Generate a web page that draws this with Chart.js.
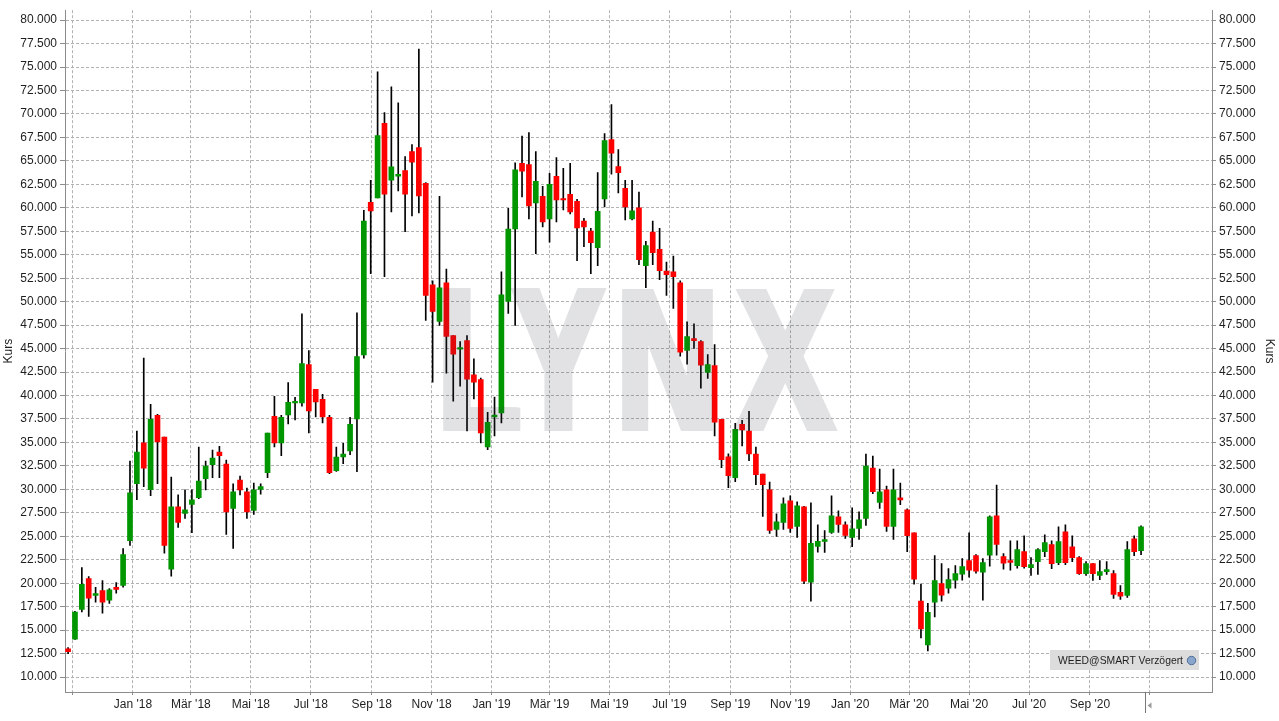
<!DOCTYPE html>
<html>
<head>
<meta charset="utf-8">
<script src="https://cdn.jsdelivr.net/npm/chart.js@4.4.1/dist/chart.umd.min.js"></script>
<style>
html,body{margin:0;padding:0;background:#fff;}
#wrap{width:1279px;height:721px;position:relative;}
</style>
</head>
<body>
<div id="wrap"><canvas id="c" width="1279" height="721"></canvas></div>
<script>
// ---- data (weekly candles, WEED@SMART) ----
const firstWeek = '2017-10-27';
const open  = [13.0,14.03,17.21,20.5,18.7,19.23,18.2,19.55,19.76,24.53,30.61,34.96,29.97,37.89,35.56,21.49,28.14,27.43,28.39,29.13,31.14,32.63,33.97,32.7,27.96,31.0,29.73,27.75,30.0,31.78,
37.79,34.96,37.93,39.2,39.2,43.3,40.65,39.59,37.68,31.99,33.47,34.11,37.5,44.33,60.59,61.05,69.01,62.96,63.38,63.98,66.0,66.42,62.6,51.79,47.9,52.0,46.38,44.93,45.85,42.21,
41.71,34.53,37.72,38.14,50.02,57.76,64.73,64.62,60.52,61.23,58.82,63.35,61.0,61.44,60.7,58.58,57.52,55.75,60.94,67.27,64.41,62.08,58.82,59.99,53.84,57.41,55.57,53.27,53.17,52.0,
44.82,46.06,45.74,42.46,43.2,37.47,33.48,31.25,36.94,36.2,33.76,31.64,29.94,25.73,26.48,28.77,26.05,28.14,20.12,23.93,24.46,25.42,27.08,26.23,24.88,25.84,26.9,32.27,28.6,29.94,
26.05,29.09,27.82,25.38,18.1,13.43,17.99,19.97,19.48,20.33,20.96,22.41,22.94,21.17,22.98,27.18,22.83,22.41,21.88,23.36,21.67,22.3,23.36,24.11,22.2,25.49,23.89,22.73,21.03,22.09,
20.82,21.24,21.03,19.02,18.7,24.74,23.47];
const high  = [13.15,17.0,21.67,20.71,19.55,20.29,19.44,20.08,23.68,33.02,36.2,43.98,39.06,38.0,35.56,31.32,29.41,29.94,29.94,34.5,33.02,34.18,34.6,33.12,30.58,31.43,30.15,30.68,30.6,36.0,
39.91,37.89,41.39,39.8,48.71,44.79,40.65,40.12,37.89,34.5,34.92,37.68,48.82,59.74,62.92,74.49,70.14,72.89,71.2,65.47,66.74,76.92,62.7,52.21,61.23,53.48,46.4,45.74,46.38,43.91,
41.85,38.21,39.84,53.17,59.96,64.8,67.66,68.01,66.0,62.29,63.67,65.36,64.2,64.73,60.91,58.89,57.83,63.77,67.91,70.99,66.2,62.92,62.92,61.69,56.42,58.58,57.83,54.23,54.86,52.21,
47.86,47.65,45.85,44.36,45.43,37.47,33.79,37.05,37.36,38.32,34.5,31.64,30.79,27.39,29.09,29.3,28.67,28.2,28.56,26.23,25.6,29.3,27.71,26.55,28.03,27.61,33.76,33.55,32.17,30.36,
32.17,30.68,27.92,25.38,19.9,17.85,22.94,22.09,21.56,21.88,22.62,25.38,23.05,22.62,27.18,30.47,23.15,24.53,24.53,25.06,22.73,23.68,25.17,24.53,26.02,26.23,25.06,22.83,22.3,22.09,
22.41,22.3,21.35,19.76,24.43,25.06,26.12];
const low   = [12.5,14.0,16.93,16.47,17.99,16.82,17.85,18.95,19.58,24.04,28.91,30.29,29.34,30.61,23.19,20.75,25.94,26.9,25.38,29.02,29.94,31.25,31.25,25.2,23.72,29.41,26.9,27.32,29.5,31.25,
34.53,33.58,36.97,37.4,38.88,36.02,37.72,37.08,31.67,31.92,32.73,33.69,31.88,43.98,52.99,61.05,52.67,59.57,61.8,57.45,59.14,59.46,48.0,41.43,47.47,42.38,39.41,41.0,36.23,39.63,
34.96,34.22,35.7,37.08,48.75,47.47,61.16,58.82,55.11,57.97,56.35,58.51,59.78,59.35,54.37,55.85,52.99,53.84,60.1,63.6,61.58,58.72,58.72,53.95,51.5,53.95,52.35,50.66,49.28,44.19,
43.34,45.03,40.79,41.82,35.7,32.31,30.19,30.82,34.64,33.05,30.51,27.11,25.31,24.99,25.73,25.42,24.88,19.94,18.1,23.3,23.29,25.31,25.42,24.78,23.89,24.67,26.16,29.55,27.96,25.52,
24.67,28.38,23.36,19.9,14.17,12.79,16.4,18.1,18.94,19.48,20.33,20.64,21.07,18.2,21.81,22.98,21.49,21.39,21.6,21.6,20.82,20.93,22.83,21.56,21.99,21.99,22.3,20.93,20.82,20.29,
20.39,20.93,18.38,18.27,18.49,22.94,23.05];
const close = [12.7,16.93,19.87,18.42,18.91,17.99,19.3,19.33,23.05,29.62,33.97,32.27,37.47,35.07,24.04,28.14,26.48,27.82,28.88,30.89,32.49,33.33,33.58,27.61,29.73,29.94,27.61,29.94,30.3,35.99,
34.96,37.68,39.27,39.38,43.41,38.35,39.31,37.72,31.78,33.44,33.76,36.94,44.15,58.58,59.67,67.7,61.47,64.37,63.56,61.47,64.87,61.26,50.66,48.96,51.47,46.31,44.4,45.11,41.75,41.43,
36.02,37.15,37.93,50.73,57.73,64.06,63.92,60.2,62.82,58.51,62.5,60.84,60.84,59.57,57.87,57.97,56.28,59.64,67.17,65.82,63.74,60.1,59.67,54.47,55.99,55.22,53.31,52.88,52.67,44.61,
46.27,45.85,43.23,43.3,37.15,33.16,31.46,36.41,36.34,33.79,31.57,30.51,25.63,26.55,28.46,25.84,28.24,20.22,24.25,24.46,24.64,27.18,26.26,25.1,25.8,26.76,32.49,29.76,29.73,26.05,
29.94,28.88,25.06,20.43,15.13,16.89,20.29,18.73,20.4,21.03,21.77,21.39,21.28,22.2,27.08,24.14,22.13,22.23,23.58,21.77,21.99,23.58,24.32,22.09,24.43,22.2,22.73,21.03,22.09,21.03,
21.24,21.46,18.8,18.63,23.58,23.36,26.02];

const tickDates  = ['2017-11-01','2018-01-01','2018-03-01','2018-05-01','2018-07-01','2018-09-01','2018-11-01',
                    '2019-01-01','2019-03-01','2019-05-01','2019-07-01','2019-09-01','2019-11-01',
                    '2020-01-01','2020-03-01','2020-05-01','2020-07-01','2020-09-01','2020-11-01'];
const tickLabels = ['', "Jan '18", "Mär '18", "Mai '18", "Jul '18", "Sep '18", "Nov '18",
                    "Jan '19", "Mär '19", "Mai '19", "Jul '19", "Sep '19", "Nov '19",
                    "Jan '20", "Mär '20", "Mai '20", "Jul '20", "Sep '20", ''];
const yTickValues = [10,12.5,15,17.5,20,22.5,25,27.5,30,32.5,35,37.5,40,42.5,45,47.5,50,52.5,55,57.5,60,62.5,65,67.5,70,72.5,75,77.5,80];
const axisTitle = 'Kurs';
const badgeText = 'WEED@SMART Verzögert';
const watermark = 'LYNX';

// ---- helpers ----
const DAY = 86400000;
const day = s => Date.parse(s + 'T00:00:00Z') / DAY;
const weeks = open.map((_, i) => day(firstWeek) + 7 * i);

const GREEN = '#009600', RED = '#ff0000';
const bodyColors = open.map((o, i) => close[i] >= o ? GREEN : RED);

const FONT = '"Liberation Sans", Arial, Helvetica, sans-serif';
Chart.defaults.font.family = FONT;
Chart.defaults.font.size = 12;
Chart.defaults.color = '#1e1e1e';

const AXIS = '#8c8c8c', GRID = '#b2b2b2';

const wmPlugin = {
  id: 'wm',
  afterDatasetsDraw(chart) {
    const ctx = chart.ctx;
    const off = document.createElement('canvas');
    off.width = chart.width; off.height = chart.height;
    const o = off.getContext('2d');
    o.fillStyle = 'rgb(60,65,75)';
    o.font = 'bold 200px ' + FONT;
    const boxes = [[443, 521], [510, 607], [622, 713], [732, 838]];
    const top = 288, bot = 431, thick = 4;
    watermark.split('').forEach((ch, k) => {
      const [x0, x1] = boxes[k];
      const m = o.measureText(ch);
      const gw = m.actualBoundingBoxLeft + m.actualBoundingBoxRight;
      const gh = m.actualBoundingBoxAscent + m.actualBoundingBoxDescent;
      const sx = (x1 - x0 - 2 * thick) / gw, sy = (bot - top) / gh;
      for (let dx = -thick; dx <= thick; dx++) {
        o.save();
        o.translate(x0 + thick + dx, top);
        o.scale(sx, sy);
        o.fillText(ch, m.actualBoundingBoxLeft, m.actualBoundingBoxAscent);
        o.restore();
      }
    });
    ctx.save();
    ctx.globalAlpha = 0.15;
    ctx.drawImage(off, 0, 0);
    ctx.restore();
  },
  afterDraw(chart) {
    const ctx = chart.ctx;
    ctx.save();
    // source badge
    ctx.fillStyle = '#dcdcdc';
    ctx.fillRect(1050, 650, 149, 20);
    ctx.fillStyle = '#1e1e1e';
    ctx.font = '11px ' + FONT;
    ctx.textBaseline = 'middle';
    ctx.textAlign = 'left';
    ctx.fillText(badgeText, 1058, 660.5, 125);
    ctx.beginPath();
    ctx.arc(1191.5, 660.5, 4.2, 0, Math.PI * 2);
    ctx.fillStyle = '#8aa6cc';
    ctx.fill();
    ctx.strokeStyle = '#4e6d99';
    ctx.lineWidth = 1;
    ctx.stroke();
    // scroll marker on the time axis
    ctx.strokeStyle = '#777';
    ctx.beginPath();
    ctx.moveTo(1145.5, 692); ctx.lineTo(1145.5, 713);
    ctx.stroke();
    ctx.fillStyle = '#9a9a9a';
    ctx.beginPath();
    ctx.moveTo(1147.5, 705.5); ctx.lineTo(1151.5, 702.5); ctx.lineTo(1151.5, 708.5); ctx.closePath();
    ctx.fill();
    ctx.restore();
  }
};

const yAxisCommon = {
  type: 'linear',
  min: 8.41,
  max: 81.06,
  afterBuildTicks: s => { s.ticks = yTickValues.map(v => ({ value: v })); },
  ticks: { callback: v => Number(v).toFixed(3), autoSkip: false, color: '#1e1e1e', font: { size: 12 } },
  title: { display: true, text: axisTitle, color: '#1e1e1e', font: { size: 12 } }
};

new Chart(document.getElementById('c'), {
  type: 'bar',
  data: {
    datasets: [
      {
        label: 'Docht',
        data: weeks.map((x, i) => ({ x, y: [low[i], high[i]] })),
        backgroundColor: '#000000',
        barThickness: 1,
        grouped: false,
        order: 2,
        xAxisID: 'x', yAxisID: 'y'
      },
      {
        label: 'Körper',
        data: weeks.map((x, i) => ({ x, y: [open[i], close[i]] })),
        backgroundColor: bodyColors,
        barThickness: 5,
        grouped: false,
        order: 1,
        xAxisID: 'x', yAxisID: 'y'
      }
    ]
  },
  options: {
    responsive: false,
    animation: false,
    events: [],
    layout: { padding: { top: 7, left: 0, right: 0, bottom: 0 } },
    plugins: { legend: { display: false }, tooltip: { enabled: false } },
    scales: {
      x: {
        type: 'linear',
        position: 'bottom',
        offset: false,
        min: day('2017-10-24') - 0.14,
        max: day('2021-01-03') + 0.2,
        afterBuildTicks: s => { s.ticks = tickDates.map(d => ({ value: day(d) })); },
        afterFit: s => { s.height = 29; },
        ticks: {
          autoSkip: false, maxRotation: 0, minRotation: 0, padding: 2,
          callback: (v, i) => tickLabels[i],
          color: '#1e1e1e', font: { size: 12 }
        },
        grid: { offset: false, color: GRID, lineWidth: 1, drawTicks: true, tickLength: 3, tickColor: AXIS },
        border: { display: true, color: AXIS, width: 1, dash: [3, 2] }
      },
      y: Object.assign({}, yAxisCommon, {
        position: 'left',
        afterFit: s => { s.width = 65; },
        ticks: Object.assign({}, yAxisCommon.ticks, { padding: 3 }),
        title: Object.assign({}, yAxisCommon.title, { padding: { top: 1, bottom: 0 } }),
        grid: { color: GRID, lineWidth: 1, drawTicks: true, tickLength: 5, tickColor: AXIS },
        border: { display: true, color: AXIS, width: 1, dash: [3, 2] }
      }),
      y2: Object.assign({}, yAxisCommon, {
        position: 'right',
        afterFit: s => { s.width = 67; },
        ticks: Object.assign({}, yAxisCommon.ticks, { padding: 3 }),
        title: Object.assign({}, yAxisCommon.title, { padding: { top: 2, bottom: 0 } }),
        grid: { drawOnChartArea: false, drawTicks: true, tickLength: 4, tickColor: AXIS, color: GRID },
        border: { display: true, color: AXIS, width: 1 }
      })
    }
  },
  plugins: [wmPlugin]
});
</script>
</body>
</html>
